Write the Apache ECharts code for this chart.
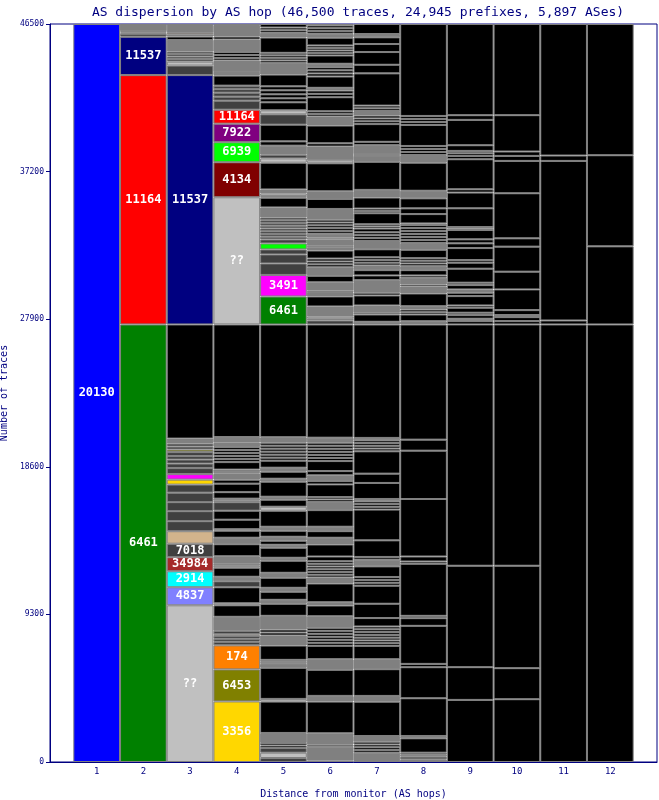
<!DOCTYPE html>
<html><head><meta charset="utf-8">
<script src="https://cdn.jsdelivr.net/npm/echarts@6/dist/echarts.min.js"></script>
<style>html,body{margin:0;padding:0;background:#fff}#c{width:659px;height:800px}</style>
</head><body><div id="c"></div>
<script>
// ---- DATA (bottom-up segment sizes in traces; keys: AS number, 'unk' = ??, k/g/d/l = other small ASes) ----
const hops = [1,2,3,4,5,6,7,8,9,10,11,12];
const tickLabelsY = [0, 9300, 18600, 27900, 37200, 46500];

const hop1Values = [46500];
const hop1Keys   = ['20130'];

const hop2Values = [27570, 15710, 2416, 190, 80, 80, 454];
const hop2Keys   = ['6461','11164','11537','d','g','d','g'];

const hop3Values = [9874,1136,1009,883,852,789,631,631,568,599,505,315,347,379,284,252,221,252,158,189,189,315,7192,15710,599,252,158,158,158,158,726,221,139,95,556];
const hop3Keys   = ['unk','4837','2914','34984','7018','tan','d','d','d','d','d','3356','3491','d','d','d','d','d','6453','d','d','g','k','11537','d','l','d','d','d','d','g','k','g','174','g'];

const hop4Values = [3817,2019,1514,221,189,189,95,221,883,726,126,1009,379,284,568,126,126,473,757,410,442,95,599,568,536,95,126,410,536,252,379,95,158,473,189,189,189,189,189,284,347,7098,8013,2208,1262,1167,883,568,252,252,221,221,631,95,126,726,158,189,189,789,189,726,65];
const hop4Keys   = ['3356','6453','174','d','d','d','tan','d','g','k','l','k','d','g','k','l','g','g','k','g','k','l','k','k','d','l','g','k','k','k','g','l','g','k','k','k','k','k','k','g','g','k','unk','4134','6939','7922','11164','d','d','d','d','d','k','d','d','g','k','k','k','g','k','g','k'];

const hop5Values = [252,334,297,158,158,631,1975,170,1956,252,126,126,902,631,189,189,864,757,252,
  505,252,631,315,757,189,631,189,252,252,379,252,1009,252,442,189,946,189,442,252,442,189,189,189,189,189,189,347,7098,
  1767,1356,726,568,315,379,252,173,173,173,173,173,173,173,173,631,612,101,170,252,1684,271,233,568,271,1054,650,252,505,252,252,252,252,738,738,158,158,158,158,965,297,167,167,222];
const hop5Keys   = ['d','l','d','k','k','g','k','l','k','g','l','g','k','g','k','k','g','k','g',
  'k','g','k','g','k','g','k','g','k','g','k','g','k','l','k','g','k','g','k','g','k','k','k','k','k','k','k','g','k',
  '6461','3491','d','d','d','6939','d','d','d','d','d','d','d','d','d','g','k','g','l','g','k','l','d','g','k','k','d','l','k','k','k','k','k','k','g','k','k','k','k','k','g','k','k','k'];

const hop6Values = [95,871,126,719,1994,360,1640,675,839,189,189,189,189,189,189,732,675,208,1180,379,173,173,173,173,167,167,297,757,423,416,278,1047,505,170,145,801,208,360,271,631,193,193,193,193,193,193,315,7135,
  252,107,145,631,631,271,95,524,404,543,183,183,183,505,208,95,397,126,233,177,177,177,177,177,675,631,480,1767,189,864,208,1117,568,167,167,883,211,211,170,713,196,196,196,215,524,158,158,158,158,486,252,175,175,175,86];
const hop6Keys   = ['3356','g','k','g','k','g','k','g','k','k','k','k','k','k','k','g','k','g','k','g','k','k','k','k','k','k','k','k','g','k','g','k','g','k','k','k','k','g','k','k','k','k','k','k','k','k','g','k',
  'd','g','l','g','k','g','l','g','k','g','k','k','k','k','g','l','g','l','g','k','k','k','k','k','g','k','g','k','l','g','k','k','g','k','k','k','k','k','g','k','k','k','k','g','k','k','k','k','k','k','g','k','k','k','k'];

const hop7Values = [587,173,173,173,173,360,2164,360,1684,631,839,173,173,173,173,177,177,177,530,902,1136,183,183,183,669,423,170,1047,1937,173,173,173,151,1009,587,1407,173,173,173,173,151,7148,
  170,461,107,461,631,170,795,297,334,297,170,170,170,505,524,183,183,183,233,136,136,694,148,148,694,480,1767,379,107,568,208,1117,180,180,180,284,170,170,2032,543,801,505,423,208,631];
const hop7Keys   = ['g','k','k','k','k','g','k','g','k','g','k','k','k','k','k','k','k','k','k','k','k','k','k','k','k','g','k','k','k','k','k','k','g','k','k','k','k','k','k','k','g','k',
  'g','k','k','g','k','k','g','k','k','g','k','k','k','k','g','k','k','k','k','k','k','k','k','k','k','g','k','g','k','g','k','k','k','k','k','g','k','k','k','k','k','k','k','g','k'];

const hop8Values = [170,164,126,126,908,145,2378,1956,208,2397,486,145,3281,145,315,3621,3047,694,7255,
  208,423,145,170,208,801,442,126,423,145,334,252,170,170,164,524,423,189,189,189,189,189,189,107,587,360,631,480,1767,486,189,189,189,1325,189,189,189,5794];
const hop8Keys   = ['g','k','g','k','k','g','k','k','k','k','k','k','k','k','k','k','k','k','k',
  'g','k','k','k','g','k','g','k','g','k','k','g','k','k','k','k','g','k','k','k','k','k','k','k','k','k','k','g','k','g','k','k','k','k','k','k','k','k'];

const hop9Values = [3912,2063,6391,15205,208,151,227,151,315,145,587,215,208,271,151,883,379,164,757,297,252,587,88,101,1180,990,208,1893,208,170,145,360,1596,297,5745];
const hop9Keys   = ['k','k','k','k','k','g','k','k','k','k','k','k','g','k','k','k','k','k','k','k','k','k','k','k','k','k','k','k','k','k','k','k','k','k','k'];

const hop10Values = [3956,1956,6454,15205,208,252,126,315,1306,1117,1577,524,2839,2038,315,278,2290,5744];
const hop10Keys   = ['k','k','k','k','k','k','k','k','k','k','k','k','k','k','k','k','k','k'];

const hop11Values = [27570,252,10050,341,8287];
const hop11Keys   = ['k','k','k','k','k'];

const hop12Values = [27570,4921,5741,8268];
const hop12Keys   = ['k','k','k','k'];

// ---- STYLE ----
const colorOf = {
  k:'#000000', g:'#808080', d:'#404040', l:'#c0c0c0', unk:'#c0c0c0', tan:'#d2b48c',
  '20130':'#0000ff', '6461':'#008000', '11164':'#ff0000', '11537':'#000080',
  '4837':'#8080ff', '2914':'#00ffff', '34984':'#a52a2a', '7018':'#404040',
  '3356':'#ffd700', '3491':'#ff00ff', '6453':'#808000', '174':'#ff8000',
  '4134':'#800000', '6939':'#00ff00', '7922':'#800080'
};
const NAVY = '#000080';
const MONO = 'DejaVu Sans Mono';

const allValues = [hop1Values,hop2Values,hop3Values,hop4Values,hop5Values,hop6Values,hop7Values,hop8Values,hop9Values,hop10Values,hop11Values,hop12Values];
const allKeys   = [hop1Keys,hop2Keys,hop3Keys,hop4Keys,hop5Keys,hop6Keys,hop7Keys,hop8Keys,hop9Keys,hop10Keys,hop11Keys,hop12Keys];

// category axis with an empty slot at each end (so hop h sits at h/13 of the plot width)
const xCats = ['0'].concat(hops.map(String), ['13']);

const maxLen = Math.max(...allValues.map(a => a.length));
const series = [];
for (let i = 0; i < maxLen; i++) {
  const data = [{ value: '-' }];
  hops.forEach((h, j) => {
    if (i >= allValues[j].length) { data.push({ value: '-' }); return; }
    const v = allValues[j][i], key = allKeys[j][i];
    const named = /^\d+$/.test(key) || key === 'unk';
    data.push({
      value: v,
      itemStyle: { color: colorOf[key] },
      label: { show: named && v >= 800, formatter: key === 'unk' ? '??' : key }
    });
  });
  data.push({ value: '-' });
  series.push({
    type: 'bar', stack: 'hops', barWidth: 46.7, data,
    itemStyle: { borderColor: '#808080', borderWidth: 1 },
    label: { position: 'inside', color: '#ffffff', fontFamily: MONO, fontWeight: 'bold', fontSize: 12 },
    silent: true, animation: false
  });
}

const chart = echarts.init(document.getElementById('c'), null, { renderer: 'canvas' });
chart.setOption({
  animation: false,
  backgroundColor: '#ffffff',
  title: {
    text: 'AS dispersion by AS hop (46,500 traces, 24,945 prefixes, 5,897 ASes)',
    left: 353, top: 1, textAlign: 'center',
    textStyle: { fontFamily: MONO, fontSize: 13, fontWeight: 'normal', color: NAVY }
  },
  grid: { left: 50, right: 2, top: 24, bottom: 38, containLabel: false, outerBoundsMode: 'none',
    show: true, borderColor: NAVY, borderWidth: 1, backgroundColor: '#ffffff' },
  xAxis: {
    type: 'category', data: xCats, boundaryGap: false,
    name: 'Distance from monitor (AS hops)', nameLocation: 'middle', nameGap: 27,
    nameTextStyle: { fontFamily: MONO, fontSize: 10, color: NAVY },
    axisLine: { show: true, lineStyle: { color: NAVY } },
    axisTick: { show: false },
    splitLine: { show: false },
    axisLabel: { fontFamily: MONO, fontSize: 9, color: NAVY, margin: 5, interval: 0,
      formatter: v => (hops.indexOf(Number(v)) >= 0 ? v : '') }
  },
  yAxis: {
    type: 'value', min: tickLabelsY[0], max: tickLabelsY[tickLabelsY.length-1], interval: 9300,
    name: 'Number of traces', nameLocation: 'middle', nameGap: 37, nameRotate: 90,
    nameTextStyle: { fontFamily: MONO, fontSize: 10, color: NAVY },
    axisLine: { show: true, lineStyle: { color: NAVY } },
    axisTick: { show: true, length: 4, lineStyle: { color: NAVY } },
    splitLine: { show: false },
    axisLabel: { fontFamily: MONO, fontSize: 8, color: NAVY, margin: 6, formatter: v => String(v) }
  },
  series
});
</script>
</body></html>
